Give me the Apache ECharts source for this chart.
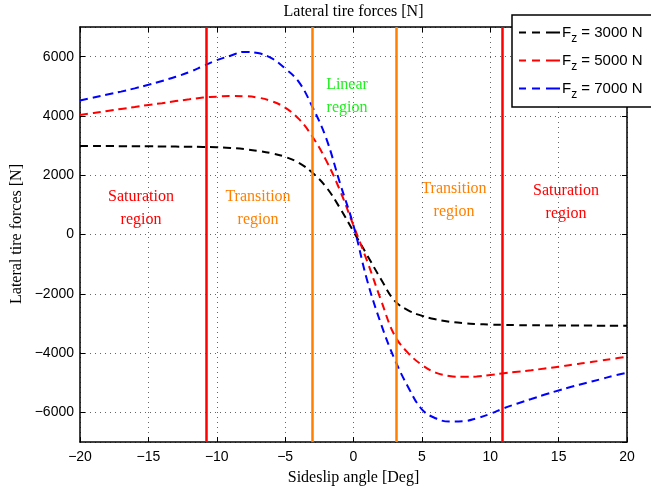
<!DOCTYPE html>
<html><head><meta charset="utf-8">
<script src="https://cdn.jsdelivr.net/npm/echarts@6/dist/echarts.min.js"></script>
<style>html,body{margin:0;padding:0;background:#fff}#c{width:651px;height:495px}</style>
</head><body><div id="c"></div>
<script>
var xs = [-20,-19,-18,-17,-16,-15,-14,-13,-12,-11,-10,-9,-8,-7,-6,-5,-4,-3,-2,-1,0,1,2,3,4,5,6,7,8,9,10,11,12,13,14,15,16,17,18,19,20];
var fz3000 = [2985,2985,2983,2980,2978,2975,2970,2965,2960,2955,2945,2920,2880,2820,2740,2620,2420,2080,1600,900,100,-700,-1500,-2230,-2560,-2740,-2860,-2940,-2990,-3020,-3040,-3050,-3057,-3062,-3066,-3069,-3071,-3073,-3075,-3076,-3077];
var fz5000 = [4030,4100,4170,4235,4300,4370,4430,4500,4560,4620,4650,4670,4665,4620,4500,4280,3900,3300,2500,1500,300,-900,-2200,-3400,-4000,-4400,-4660,-4770,-4800,-4790,-4740,-4680,-4630,-4580,-4520,-4460,-4390,-4330,-4260,-4190,-4120];
var fz7000 = [4520,4620,4720,4820,4930,5050,5180,5320,5480,5680,5880,6030,6160,6120,5950,5600,5150,4300,3250,1750,300,-1550,-3000,-4200,-5150,-5900,-6200,-6310,-6300,-6200,-6050,-5860,-5700,-5550,-5400,-5260,-5130,-5010,-4890,-4770,-4660];
var seriesNames = ['Fz = 3000 N','Fz = 5000 N','Fz = 7000 N'];
var seriesColors = ['#000000','#ff0000','#0000ff'];
var boundaryRed = [-10.75, 10.9];
var boundaryOrange = [-3.05, 3.1];
var xTicks = {min:-20, max:20, interval:5};
var yRange = {min:-7000, max:7000, splitNumber:7};

function pairs(v){ return xs.map(function(x,i){ return [x, v[i]]; }); }
function minus(v){ return String(v).replace('-', '\u2212'); }

var chart = echarts.init(document.getElementById('c'));
var sans = 'Liberation Sans';
var gridColor = '#666';
var vals = [fz3000, fz5000, fz7000];
var dashIcon = 'path://M0,0h7v2h-7z M13,0h8v2h-8z M27,0h14v2h-14z';

var series = vals.map(function(v,i){
  return {name: seriesNames[i], type:'line', data: pairs(v), symbol:'none', smooth:0.4,
    lineStyle:{color:seriesColors[i], width:2, type:[8,5]}, itemStyle:{color:seriesColors[i]}, z:3};
});
var ml = [];
boundaryRed.forEach(function(x){ ml.push({xAxis:x, lineStyle:{color:'#ff0000'}}); });
boundaryOrange.forEach(function(x){ ml.push({xAxis:x, lineStyle:{color:'#ff8000'}}); });
series.push({type:'line', data:[], symbol:'none', z:4, markLine:{symbol:['none','none'], silent:true, label:{show:false},
  lineStyle:{type:'solid', width:2.5}, data: ml}});

chart.setOption({
  animation:false,
  backgroundColor:'#fff',
  grid:{left:80, right:24, top:27, bottom:53},
  xAxis:[{type:'value', min:xTicks.min, max:xTicks.max, interval:xTicks.interval,
      axisLine:{onZero:false, lineStyle:{color:'#000', width:1.5}},
      axisTick:{inside:true, length:5, lineStyle:{color:'#000'}},
      axisLabel:{color:'#000', fontFamily:sans, fontSize:14, margin:8, formatter:minus},
      splitLine:{show:true, lineStyle:{color:gridColor, type:[1,4], width:1}}},
    {type:'value', position:'top', min:xTicks.min, max:xTicks.max, interval:xTicks.interval,
      axisLine:{onZero:false, lineStyle:{color:'#000', width:1.5}},
      axisTick:{inside:true, length:5, lineStyle:{color:'#000'}},
      axisLabel:{show:false}, splitLine:{show:false}}],
  yAxis:[{type:'value', min:yRange.min, max:yRange.max, splitNumber:yRange.splitNumber,
      axisLine:{onZero:false, show:true, lineStyle:{color:'#000', width:1.5}},
      axisTick:{show:true, inside:true, length:5, lineStyle:{color:'#000'}},
      axisLabel:{color:'#000', fontFamily:sans, fontSize:14, margin:6, formatter:minus,
        showMinLabel:false, showMaxLabel:false},
      splitLine:{show:true, lineStyle:{color:gridColor, type:[1,4], width:1}}},
    {type:'value', position:'right', min:yRange.min, max:yRange.max, splitNumber:yRange.splitNumber,
      axisLine:{onZero:false, show:true, lineStyle:{color:'#000', width:1.5}},
      axisTick:{show:true, inside:true, length:5, lineStyle:{color:'#000'}},
      axisLabel:{show:false}, splitLine:{show:false}}],
  legend:{left:512, top:15, orient:'vertical', itemWidth:41, itemHeight:2, itemGap:8, icon:dashIcon,
    padding:[10,20,6,7], backgroundColor:'#fff', borderColor:'#000', borderWidth:1.5, borderRadius:0,
    data: seriesNames, selectedMode:false,
    formatter:function(n){ return '{a|F}{s|z}{a|' + n.substring(2) + '}'; },
    textStyle:{color:'#000', fontFamily:sans, fontSize:15, padding:[0,0,0,-3],
      rich:{a:{fontFamily:sans, fontSize:15, color:'#000'}, s:{fontFamily:sans, fontSize:12, color:'#000', padding:[13,0,0,0]}}}},
  series: series,
  graphic:[
    {type:'text', x:353.5, y:12, style:{text:'Lateral tire forces [N]', font:'16px "Liberation Serif"', fill:'#000', textAlign:'center', textVerticalAlign:'middle'}},
    {type:'text', x:353.5, y:478, style:{text:'Sideslip angle [Deg]', font:'16px "Liberation Serif"', fill:'#000', textAlign:'center', textVerticalAlign:'middle'}},
    {type:'text', x:17, y:234, rotation:Math.PI/2, style:{text:'Lateral tire forces [N]', font:'16px "Liberation Serif"', fill:'#000', textAlign:'center', textVerticalAlign:'middle'}},
    {type:'text', x:141, y:208, style:{text:'Saturation\nregion', font:'16px "Liberation Serif"', fill:'#ff0000', textAlign:'center', textVerticalAlign:'middle', lineHeight:23}},
    {type:'text', x:258, y:208, style:{text:'Transition\nregion', font:'16px "Liberation Serif"', fill:'#ff8000', textAlign:'center', textVerticalAlign:'middle', lineHeight:23}},
    {type:'text', x:347, y:96, style:{text:'Linear\nregion', font:'16px "Liberation Serif"', fill:'#22ee22', textAlign:'center', textVerticalAlign:'middle', lineHeight:23}},
    {type:'text', x:454, y:200, style:{text:'Transition\nregion', font:'16px "Liberation Serif"', fill:'#ff8000', textAlign:'center', textVerticalAlign:'middle', lineHeight:23}},
    {type:'text', x:566, y:202, style:{text:'Saturation\nregion', font:'16px "Liberation Serif"', fill:'#ff0000', textAlign:'center', textVerticalAlign:'middle', lineHeight:23}}
  ]
});
</script></body></html>
